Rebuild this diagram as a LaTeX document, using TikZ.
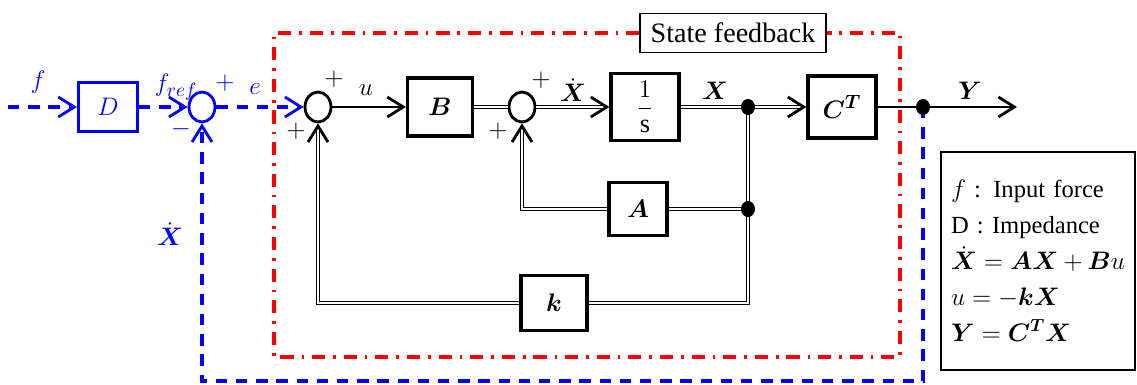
\documentclass[tikz,border=0pt]{standalone}
\usepackage{amsmath}
\usepackage{fontspec}
\setmainfont{Liberation Serif}
\usetikzlibrary{arrows.meta,shapes.geometric}

\begin{document}
\begin{tikzpicture}[x=0.02cm,y=-0.02cm,font=\fontsize{15}{18}\selectfont,
    blk/.style={draw,line width=1.8pt,inner sep=0pt,fill=white},
    sumpt/.style={draw,ellipse,line width=1.6pt,minimum width=0.52cm,minimum height=0.6cm,inner sep=0pt},
    jpt/.style={fill,ellipse,minimum width=0.28cm,minimum height=0.32cm,inner sep=0pt},
    sig/.style={line width=1.2pt},
    vec/.style={double,line width=0.6pt,double distance=1.3pt},
    tip/.style={-{Straight Barb[length=3.2mm,width=4mm,line width=1.6pt]}},
    bluesig/.style={blue,line width=1.8pt,dash pattern=on 6.5pt off 5pt},
    redbox/.style={red,line width=1.8pt,dash pattern=on 7.5pt off 4.5pt on 1.5pt off 4.5pt}]
    \useasboundingbox (0,0) rectangle (1137,385);

    % blocks
    \node[blk,draw=blue,text=blue,minimum width=1.18cm,minimum height=0.98cm] (D) at (108,107) {$D$};
    \node[sumpt,blue] (s1) at (202,107) {};
    \node[sumpt] (s2) at (318,107) {};
    \node[blk,minimum width=1.3cm,minimum height=1.16cm] (B) at (440,107) {$\boldsymbol{B}$};
    \node[sumpt] (s3) at (522,107) {};
    \node[blk,minimum width=1.36cm,minimum height=1.34cm] (int) at (645,107) {$\dfrac{1}{\mathrm{s}}$};
    \node[blk,minimum width=1.36cm,minimum height=1.24cm] (C) at (842,107) {$\boldsymbol{C}^{\boldsymbol{T}}$};
    \node[blk,minimum width=1.16cm,minimum height=1.06cm] (A) at (638,209) {$\boldsymbol{A}$};
    \node[blk,minimum width=1.32cm,minimum height=1.1cm] (k) at (554,303) {$\boldsymbol{k}$};
    \coordinate (j1) at (748,107);
    \coordinate (j2) at (923,107);
    \coordinate (j3) at (748,209);
    \coordinate (fin) at (8,107);
    \coordinate (yout) at (1017,107);
    \coordinate (fbend) at (923,381);

    % state feedback frame
    \node[draw,line width=0.8pt,fill=white,minimum width=3.72cm,minimum height=0.78cm,font=\fontsize{16}{19}\selectfont] (sfb) at (733,33) {State feedback};
    \draw[redbox] (sfb.west) -- (274,33) -- (274,357) -- (900,357) -- (900,33) -- (sfb.east);

    % blue outer loop
    \draw[bluesig,tip] (fin) -- (D);
    \draw[bluesig,tip] (D) -- (s1);
    \draw[bluesig,tip] (s1) -- (s2);
    \draw[bluesig,tip] (j2) -- (fbend) -| (s1);

    % forward path
    \draw[sig,tip] (s2) -- (B);
    \draw[vec] (B) -- (s3);
    \draw[vec,tip] (s3) -- (int);
    \draw[vec] (int) -- (j1);
    \draw[vec,tip] (j1) -- (C);
    \draw[sig] (C) -- (j2);
    \draw[sig,tip] (j2) -- (yout);

    % inner feedback
    \draw[vec] (j1) -- (j3);
    \draw[vec] (j3) -- (A);
    \draw[vec,tip] (A) -| (s3);
    \draw[vec] (j3) |- (k);
    \draw[vec,tip] (k) -| (s2);

    \foreach \j in {j1,j2,j3}
      \node[jpt] at (\j) {};

    % labels
    \node[blue] at (38,82) {$f$};
    \node[blue] at (176,87) {$f_{ref}$};
    \node[blue] at (225,83) {$+$};
    \node[blue] at (181,129) {$-$};
    \node[blue] at (255,89) {$e$};
    \node[blue] at (170,234) {$\dot{\boldsymbol{X}}$};
    \node at (334,79) {$+$};
    \node at (366,90) {$u$};
    \node at (296,131) {$+$};
    \node at (541,80) {$+$};
    \node at (573,90) {$\dot{\boldsymbol{X}}$};
    \node at (498,131) {$+$};
    \node at (715,91) {$\boldsymbol{X}$};
    \node at (970,91) {$\boldsymbol{Y}$};

    % legend
    \node[draw,line width=0.8pt,align=left,text width=3.48cm,inner xsep=0.2cm,minimum height=4.36cm,font=\fontsize{14}{20.5}\selectfont] (legend) at (1038,261)
      {$f$ : Input force\\
       D : Impedance\\
       $\dot{\boldsymbol{X}}=\boldsymbol{AX}+\boldsymbol{B}u$\\
       $u=-\boldsymbol{kX}$\\
       $\boldsymbol{Y}=\boldsymbol{C}^{\boldsymbol{T}}\boldsymbol{X}$};
\end{tikzpicture}
\end{document}
